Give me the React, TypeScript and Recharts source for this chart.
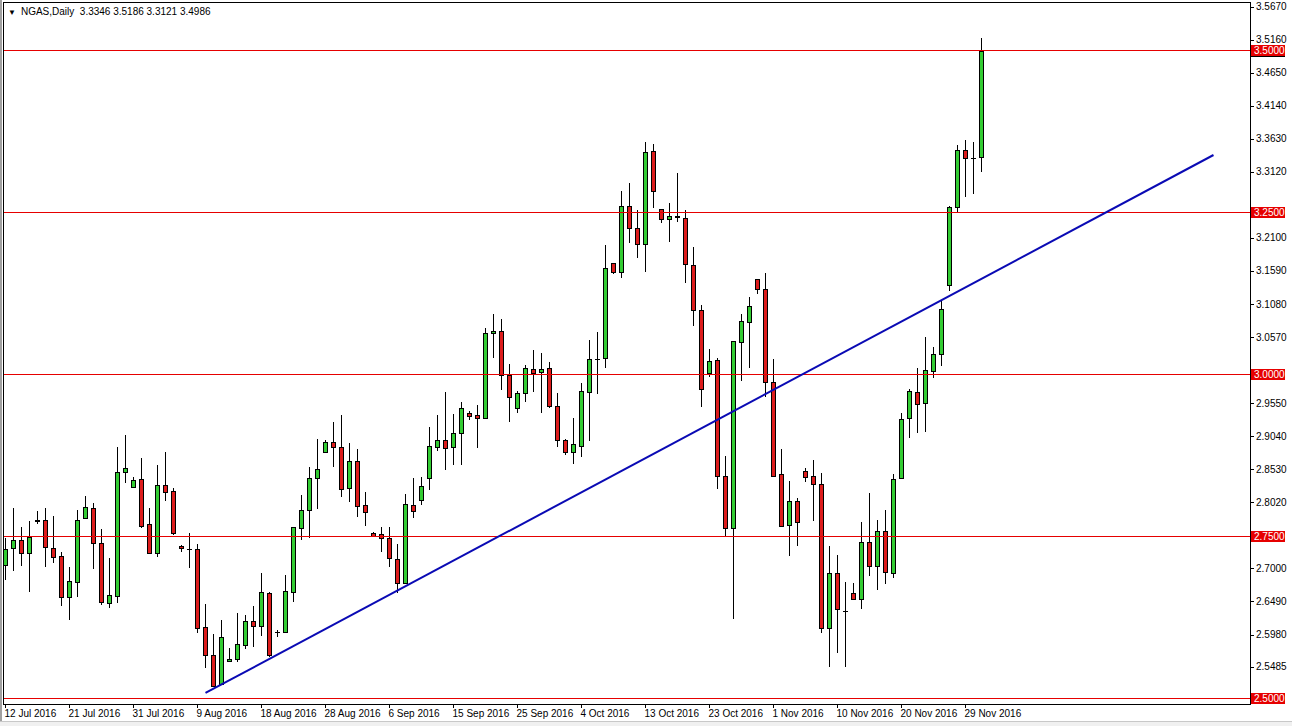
import React from "react";
import { Bar, ComposedChart, ReferenceLine, XAxis, YAxis } from "recharts";

// NGAS daily bars, 12 Jul 2016 .. 1 Dec 2016 (Sun-Fri sessions)
const OPEN = [
  2.7053, 2.7315, 2.7439, 2.7238, 2.7747, 2.7747, 2.7315, 2.7192,
  2.6559, 2.6791, 2.7778, 2.7933, 2.7392, 2.6467, 2.6574, 2.8488,
  2.8256, 2.838, 2.7686, 2.7238, 2.8287, 2.8195, 2.7346, 2.73,
  2.73, 2.6096, 2.5664, 2.5217, 2.5571, 2.5602, 2.5818, 2.6189,
  2.6112, 2.6621, 2.6019, 2.6019, 2.6636, 2.7624, 2.7902, 2.8395,
  2.8797, 2.8951, 2.8874, 2.8241, 2.8658, 2.7979, 2.7547, 2.7531,
  2.747, 2.7145, 2.6775, 2.7979, 2.8056, 2.8395, 2.8874, 2.8982,
  2.8874, 2.909, 2.9398, 2.9368, 2.9321, 3.0633, 3.0664, 2.9985,
  2.9476, 2.9707, 3.0077, 3.0031, 3.0093, 2.9506, 2.8982, 2.8797,
  2.8889, 2.9722, 3.0232, 3.0247, 3.1714, 3.1575, 3.2593, 3.2253,
  3.2006, 3.3442, 3.2547, 3.2392, 3.2439, 3.2408, 3.1683, 3.0988,
  3.0015, 3.0216, 2.8426, 2.7624, 3.0494, 3.0803, 3.1466, 3.1312,
  2.9877, 2.8457, 2.767, 2.8041, 2.8503, 2.8426, 2.8303, 2.6081,
  2.693, 2.6343, 2.6621, 2.6528, 2.7408, 2.7037, 2.7578, 2.693,
  2.8395, 2.9321, 2.9723, 2.9553, 3.0046, 3.0309, 3.1374, 3.2577,
  3.3457, 3.3334, 3.3346,
];
const HIGH = [
  2.747, 2.7933, 2.7639, 2.7732, 2.7886, 2.7933, 2.7809, 2.7254,
  2.7022, 2.7902, 2.8118, 2.801, 2.7608, 2.7161, 2.8874, 2.9059,
  2.8411, 2.8705, 2.7933, 2.8596, 2.8797, 2.8241, 2.7361, 2.7547,
  2.7377, 2.6451, 2.5988, 2.6204, 2.5772, 2.6312, 2.6281, 2.642,
  2.6926, 2.6636, 2.605, 2.6895, 2.7639, 2.8133, 2.8565, 2.8997,
  2.8982, 2.926, 2.9368, 2.8936, 2.8843, 2.818, 2.7562, 2.7639,
  2.7639, 2.7377, 2.8149, 2.8395, 2.8411, 2.9182, 2.9368, 2.9722,
  2.9383, 2.9568, 2.9429, 2.9522, 3.071, 3.0926, 3.0849, 3.0154,
  2.9738, 3.0139, 3.037, 3.0324, 3.0185, 2.9707, 2.8997, 2.9321,
  2.9861, 3.0525, 3.0648, 3.1992, 3.1714, 3.2825, 3.2948, 3.2531,
  3.3581, 3.355, 3.2547, 3.2639, 3.3102, 3.2531, 3.196, 3.1065,
  3.0386, 3.0247, 2.8735, 3.051, 3.0926, 3.1189, 3.1466, 3.1559,
  3.0232, 2.8843, 2.8349, 2.8087, 2.855, 2.8673, 2.8473, 2.7346,
  2.7207, 2.679, 2.6775, 2.7716, 2.8164, 2.7747, 2.7902, 2.8457,
  2.9398, 2.9769, 3.0093, 3.0571, 3.0417, 3.1127, 3.2593, 3.3535,
  3.3612, 3.3581, 3.5186,
];
const LOW = [
  2.6821, 2.696, 2.7037, 2.6636, 2.7686, 2.7022, 2.7084, 2.642,
  2.6204, 2.6559, 2.7778, 2.6991, 2.6436, 2.639, 2.6467, 2.8318,
  2.8256, 2.7624, 2.7223, 2.7176, 2.8041, 2.7516, 2.7254, 2.7006,
  2.6004, 2.5464, 2.517, 2.5201, 2.5556, 2.5556, 2.5757, 2.5788,
  2.5957, 2.5633, 2.5942, 2.6004, 2.6482, 2.7439, 2.747, 2.7917,
  2.8781, 2.8565, 2.8102, 2.8025, 2.7794, 2.7655, 2.7485, 2.7254,
  2.7022, 2.6621, 2.676, 2.7778, 2.7979, 2.821, 2.8812, 2.8519,
  2.8596, 2.8596, 2.929, 2.8858, 2.9306, 3.0247, 2.9753, 2.926,
  2.9398, 2.9568, 2.9722, 2.9398, 2.9476, 2.8874, 2.875, 2.8612,
  2.8719, 2.8967, 2.9691, 3.0093, 3.1544, 3.1482, 3.2022, 3.179,
  3.1575, 3.2562, 3.233, 3.2037, 3.2346, 3.1404, 3.0741, 2.9491,
  2.9954, 2.8226, 2.75, 2.6219, 2.9892, 3.0093, 3.1235, 2.9645,
  2.8426, 2.7639, 2.7192, 2.7346, 2.8334, 2.7732, 2.6004, 2.5479,
  2.5695, 2.5479, 2.6528, 2.6374, 2.6883, 2.6667, 2.676, 2.6852,
  2.8395, 2.9012, 2.909, 2.9105, 2.9939, 3.0124, 3.1281, 3.2485,
  3.2732, 3.2778, 3.3121,
];
const CLOSE = [
  2.73, 2.7439, 2.7238, 2.7485, 2.7732, 2.7331, 2.7176, 2.6559,
  2.6806, 2.7747, 2.7948, 2.7392, 2.6482, 2.659, 2.8488, 2.855,
  2.8365, 2.7655, 2.7238, 2.8287, 2.818, 2.7547, 2.7315, 2.73,
  2.6081, 2.5664, 2.5186, 2.5942, 2.5602, 2.5834, 2.6189, 2.6112,
  2.6636, 2.5664, 2.6019, 2.6652, 2.7639, 2.7902, 2.8395, 2.8534,
  2.8951, 2.8874, 2.8225, 2.8658, 2.7963, 2.7871, 2.75, 2.747,
  2.7161, 2.6775, 2.7994, 2.7886, 2.8272, 2.8889, 2.8982, 2.8858,
  2.909, 2.9476, 2.9352, 2.9321, 3.0633, 3.0664, 2.9985, 2.9645,
  2.9707, 3.0093, 3.0015, 3.0077, 2.9506, 2.8982, 2.8797, 2.892,
  2.9738, 3.0232, 3.0232, 3.1637, 3.1575, 3.2593, 3.2253, 3.2006,
  3.3426, 3.2825, 3.2392, 3.2439, 3.2423, 3.1698, 3.0988, 2.9769,
  3.0201, 2.8426, 2.7624, 3.051, 3.0818, 3.105, 3.1312, 2.9877,
  2.8426, 2.7655, 2.8041, 2.7716, 2.8411, 2.8303, 2.6081, 2.693,
  2.6374, 2.6343, 2.6528, 2.7408, 2.7037, 2.7578, 2.6945, 2.838,
  2.9306, 2.9738, 2.9537, 3.0062, 3.0309, 3.1003, 3.2577, 3.3457,
  3.3334, 3.3334, 3.4986,
];

// one date label every 8 bars
const X_LABELS = [
  "12 Jul 2016", "21 Jul 2016", "31 Jul 2016", "9 Aug 2016",
  "18 Aug 2016", "28 Aug 2016", "6 Sep 2016", "15 Sep 2016",
  "25 Sep 2016", "4 Oct 2016", "13 Oct 2016", "23 Oct 2016",
  "1 Nov 2016", "10 Nov 2016", "20 Nov 2016", "29 Nov 2016",
];
const BARS_PER_LABEL = 8;

const Y_TICKS = [
  3.567, 3.516, 3.465, 3.414, 3.363, 3.312, 3.21, 3.159, 3.108, 3.057,
  2.955, 2.904, 2.853, 2.802, 2.7, 2.649, 2.598, 2.5485,
];
const LEVELS = [3.5, 3.25, 3.0, 2.75, 2.5];
const TREND_LINE = [
  { x: 25, y: 2.5078 },
  { x: 151, y: 3.338 },
];

const X_DOMAIN = [-0.3125, 155.5625];
const Y_DOMAIN = [2.4908, 3.5741];

const FONT = "'Liberation Sans', Arial, sans-serif";
const BULL = "#33cc33";
const BEAR = "#dd1c1c";
const LEVEL_RED = "#e60000";

const candles = OPEN.map((open, i) => ({
  i,
  open,
  high: HIGH[i],
  low: LOW[i],
  close: CLOSE[i],
}));

const tickIndexes = X_LABELS.map((_, k) => k * BARS_PER_LABEL);
const last = candles[candles.length - 1];

function Candle(props: any) {
  const { x, y, width, height, payload } = props;
  if (!payload || height == null) return null;
  const top = Math.min(y, y + height);
  const bottom = Math.max(y, y + height);
  const span = payload.high - payload.low;
  const toY = (v: number) =>
    span === 0 ? top : top + ((payload.high - v) / span) * (bottom - top);
  const cx = Math.floor(x + width / 2);
  const yHi = Math.round(top);
  const yLo = Math.round(bottom);
  const { open, close } = payload;

  if (open === close) {
    const yy = Math.round(toY(open)) + 0.5;
    return (
      <g shapeRendering="crispEdges">
        <line x1={cx + 0.5} x2={cx + 0.5} y1={yHi} y2={yLo} stroke="#000" />
        <line x1={cx - 2} x2={cx + 3} y1={yy} y2={yy} stroke="#000" />
      </g>
    );
  }
  const bTop = Math.round(toY(Math.max(open, close)));
  const bBot = Math.round(toY(Math.min(open, close)));
  return (
    <g shapeRendering="crispEdges">
      <line x1={cx + 0.5} x2={cx + 0.5} y1={yHi} y2={yLo} stroke="#000" />
      <rect
        x={cx - 1.5}
        y={bTop + 0.5}
        width={4}
        height={Math.max(bBot - bTop, 1)}
        fill={close > open ? BULL : BEAR}
        stroke="#000"
      />
    </g>
  );
}

function DateTick(props: any) {
  const { x, y, payload } = props;
  const label = X_LABELS[payload.value / BARS_PER_LABEL];
  const tx = Math.floor(x) + 0.5;
  return (
    <g>
      <line x1={tx} x2={tx} y1={y} y2={y + 4} stroke="#000" shapeRendering="crispEdges" />
      <text x={x - 1} y={y + 13} fontSize={10} fontFamily={FONT} fill="#000" textAnchor="start">
        {label}
      </text>
    </g>
  );
}

function PriceTick(props: any) {
  const { x, y, payload } = props;
  const ty = Math.round(y) + 0.5;
  return (
    <g>
      <line x1={x} x2={x + 4} y1={ty} y2={ty} stroke="#000" shapeRendering="crispEdges" />
      <text x={x + 6} y={y} dy="0.35em" fontSize={10} fontFamily={FONT} fill="#000" textAnchor="start">
        {payload.value.toFixed(4)}
      </text>
    </g>
  );
}

function LevelBadge(props: any) {
  const { viewBox, text, fill } = props;
  if (!viewBox) return null;
  const bx = viewBox.x + viewBox.width + 1;
  const by = Math.round(viewBox.y) - 5;
  return (
    <g>
      <rect x={bx} y={by} width={34} height={11} fill={fill} />
      <text x={bx + 3} y={by + 5.5} dy="0.35em" fontSize={10} fontFamily={FONT} fill="#fff">
        {text}
      </text>
    </g>
  );
}

export default function App() {
  return (
    <div style={{ position: "absolute", left: 0, top: 0, width: 1292, height: 726, background: "#fff", overflow: "hidden" }}>
      <ComposedChart
        width={1292}
        height={726}
        data={candles}
        margin={{ top: 2, right: 0, left: 3, bottom: 0 }}
      >
        <XAxis
          dataKey="i"
          type="number"
          domain={X_DOMAIN}
          allowDataOverflow
          ticks={tickIndexes}
          interval={0}
          height={22}
          axisLine={false}
          tickLine={false}
          tickSize={0}
          tickMargin={0}
          tick={<DateTick />}
        />
        <YAxis
          orientation="right"
          type="number"
          domain={Y_DOMAIN}
          allowDataOverflow
          ticks={Y_TICKS}
          interval={0}
          width={42}
          axisLine={false}
          tickLine={false}
          tickSize={0}
          tickMargin={0}
          tick={<PriceTick />}
        />
        <Bar
          dataKey={(d: any) => [d.low, d.high]}
          barSize={5}
          shape={(p: any) => <Candle {...p} />}
          isAnimationActive={false}
        />
        <ReferenceLine
          y={last.close}
          stroke="none"
          label={<LevelBadge text={last.close.toFixed(4)} fill="#000" />}
        />
        {LEVELS.map((lv) => (
          <ReferenceLine
            key={lv}
            y={lv}
            stroke={LEVEL_RED}
            strokeWidth={1}
            shapeRendering="crispEdges"
            label={<LevelBadge text={lv.toFixed(4)} fill={LEVEL_RED} />}
          />
        ))}
        <ReferenceLine
          segment={TREND_LINE}
          stroke="#0a0ab4"
          strokeWidth={2}
          ifOverflow="visible"
        />
      </ComposedChart>
      {/* chart frame */}
      <div style={{ position: "absolute", left: 3, top: 2, width: 1248, height: 703, border: "1px solid #000", boxSizing: "border-box", pointerEvents: "none" }} />
      <div style={{ position: "absolute", left: 0, top: 0, width: 2, height: 726, background: "#a0a0a0" }} />
      <div style={{ position: "absolute", left: 0, top: 721, width: 1292, height: 5, background: "#f0f0f0", borderTop: "1px solid #c8c8c8" }} />
      {/* symbol header */}
      <div style={{ position: "absolute", left: 8, top: 5, fontFamily: FONT, fontSize: 10, color: "#000", whiteSpace: "pre", lineHeight: "14px" }}>
        <span style={{ fontSize: 8, marginRight: 5 }}>▼</span>
        {`NGAS,Daily  ${last.open.toFixed(4)} ${last.high.toFixed(4)} ${last.low.toFixed(4)} ${last.close.toFixed(4)}`}
      </div>
    </div>
  );
}
